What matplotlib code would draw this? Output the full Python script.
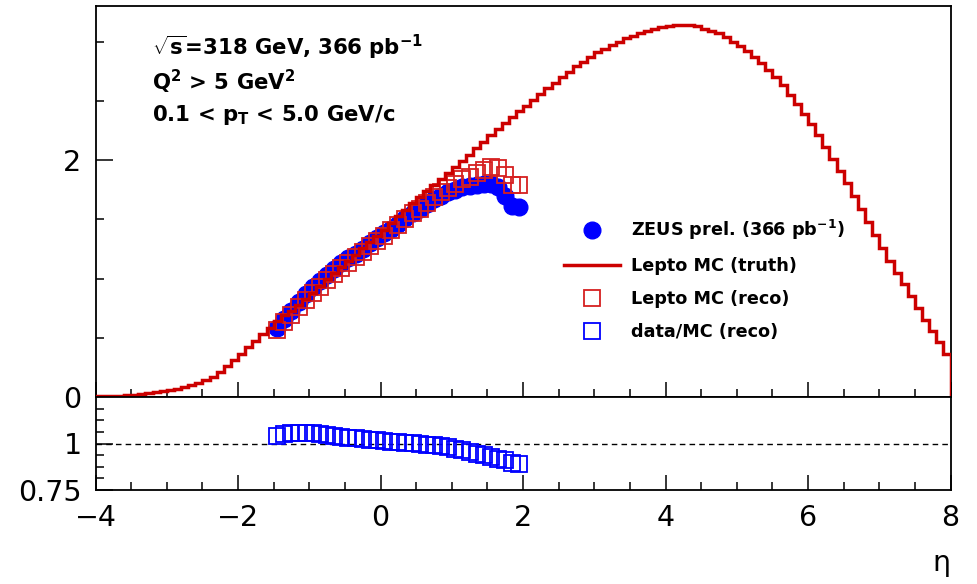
import numpy as np
import matplotlib
matplotlib.use('Agg')
import matplotlib.pyplot as plt
from matplotlib.ticker import MultipleLocator, FixedLocator
from matplotlib.lines import Line2D

plt.rcParams['font.family'] = ['DejaVu Sans']
plt.rcParams['mathtext.fontset'] = 'custom'
plt.rcParams['mathtext.rm'] = 'DejaVu Sans:bold'
plt.rcParams['mathtext.it'] = 'DejaVu Sans:bold'
plt.rcParams['mathtext.bf'] = 'DejaVu Sans:bold'
plt.rcParams['mathtext.sf'] = 'DejaVu Sans:bold'

# ---------------- data ----------------
eta_lo, eta_hi, n_bins = -4.0, 8.0, 120

truth = [
    0.005, 0.007, 0.009, 0.012, 0.016, 0.021, 0.026, 0.032, 0.039, 0.047,
    0.057, 0.069, 0.084, 0.101, 0.121, 0.145, 0.172, 0.215, 0.26, 0.31,
    0.36, 0.42, 0.47, 0.53, 0.58, 0.64, 0.69, 0.73, 0.78, 0.83,
    0.88, 0.94, 1.00, 1.05, 1.10, 1.15, 1.20, 1.26, 1.31, 1.36,
    1.41, 1.47, 1.53, 1.58, 1.64, 1.69, 1.74, 1.79, 1.84, 1.89,
    1.94, 1.99, 2.04, 2.10, 2.15, 2.21, 2.26, 2.31, 2.36, 2.41,
    2.46, 2.51, 2.56, 2.61, 2.65, 2.70, 2.74, 2.79, 2.83, 2.87,
    2.91, 2.94, 2.97, 3.00, 3.03, 3.05, 3.07, 3.09, 3.11, 3.12,
    3.13, 3.14, 3.14, 3.14, 3.13, 3.11, 3.09, 3.07, 3.04, 3.00,
    2.96, 2.92, 2.87, 2.82, 2.76, 2.70, 2.63, 2.55, 2.47, 2.39,
    2.30, 2.21, 2.11, 2.01, 1.91, 1.81, 1.70, 1.59, 1.48, 1.37,
    1.26, 1.15, 1.05, 0.95, 0.85, 0.75, 0.65, 0.56, 0.46, 0.36,
]

data_eta = [-1.45, -1.35, -1.25, -1.15, -1.05, -0.95, -0.85, -0.75, -0.65, -0.55,
            -0.45, -0.35, -0.25, -0.15, -0.05, 0.05, 0.15, 0.25, 0.35, 0.45,
            0.55, 0.65, 0.75, 0.85, 0.95, 1.05, 1.15, 1.25, 1.35, 1.45,
            1.55, 1.65, 1.75, 1.85, 1.95]

data_vals = [0.58, 0.66, 0.73, 0.80, 0.87, 0.93, 0.98, 1.03, 1.08, 1.13,
             1.17, 1.21, 1.25, 1.30, 1.34, 1.38, 1.42, 1.46, 1.51, 1.55,
             1.59, 1.63, 1.67, 1.70, 1.73, 1.75, 1.77, 1.78, 1.79, 1.80,
             1.80, 1.77, 1.70, 1.61, 1.60]

reco_vals = [0.567, 0.63, 0.69, 0.76, 0.82, 0.88, 0.93, 0.985, 1.04, 1.09,
             1.135, 1.18, 1.22, 1.275, 1.32, 1.36, 1.41, 1.45, 1.50, 1.55,
             1.59, 1.64, 1.69, 1.73, 1.765, 1.80, 1.84, 1.86, 1.89, 1.92,
             1.94, 1.93, 1.87, 1.79, 1.79]

ratio_vals = [1.041, 1.049, 1.056, 1.058, 1.058, 1.056, 1.051, 1.046, 1.041, 1.036,
              1.031, 1.027, 1.024, 1.020, 1.017, 1.014, 1.010, 1.008, 1.005, 1.002,
              0.998, 0.994, 0.990, 0.985, 0.980, 0.973, 0.964, 0.955, 0.946, 0.937,
              0.928, 0.919, 0.910, 0.897, 0.888]

edges = np.linspace(eta_lo, eta_hi, n_bins + 1)

RED = '#cc0000'
RECO_RED = '#d62020'
BLUE = '#0000ff'
SQ_MS, SQ_MEW, CIRC_MS = 11.2, 1.3, 12.0

fig = plt.figure(figsize=(9.77, 5.84), dpi=100)
L, R = 95.5 / 977, 950.5 / 977
ax = fig.add_axes([L, 1 - 397 / 584, R - L, (397 - 6) / 584])
rax = fig.add_axes([L, 1 - 490 / 584, R - L, (490 - 397) / 584])

# ---------------- top panel ----------------
ax.plot(data_eta, data_vals, 'o', color=BLUE, ms=CIRC_MS, mec=BLUE, zorder=2)
ax.plot(data_eta, reco_vals, 's', mfc='none', mec=RECO_RED, ms=SQ_MS, mew=SQ_MEW, zorder=3)
ax.stairs(truth, edges, color=RED, lw=2.5, zorder=4)

ax.set_xlim(eta_lo, eta_hi)
ax.set_ylim(0, 3.30)
ax.xaxis.set_major_locator(MultipleLocator(2))
ax.xaxis.set_minor_locator(MultipleLocator(0.5))
ax.yaxis.set_major_locator(FixedLocator([0, 2]))
ax.yaxis.set_minor_locator(MultipleLocator(0.5))
ax.tick_params(axis='both', which='both', direction='in', top=False, right=False)
ax.tick_params(axis='x', which='major', length=11, width=1.1, labelbottom=False)
ax.tick_params(axis='x', which='minor', length=5.5, width=1.1)
ax.tick_params(axis='y', which='major', length=12, width=1.1, labelsize=20.5, pad=10)
ax.tick_params(axis='y', which='minor', length=6, width=1.1)
for s in ax.spines.values():
    s.set_linewidth(1.3)

txt_kw = dict(transform=ax.transAxes, fontsize=15.3, fontweight='bold', ha='left', va='baseline')
ax.text(0.066, 1 - (55 - 6) / 391, r'$\sqrt{s}$=318 GeV, 366 pb$^{-1}$', **txt_kw)
ax.text(0.066, 1 - (90 - 6) / 391, r'Q$^{2}$ > 5 GeV$^{2}$', **txt_kw)
ax.text(0.066, 1 - (121 - 6) / 391, r'0.1 < p$_{\mathrm{T}}$ < 5.0 GeV/c', **txt_kw)

handles = [
    Line2D([], [], ls='none', marker='o', color=BLUE, ms=CIRC_MS),
    Line2D([], [], color=RED, lw=2.5),
    Line2D([], [], ls='none', marker='s', mfc='none', mec=RECO_RED, ms=SQ_MS, mew=SQ_MEW),
    Line2D([], [], ls='none', marker='s', mfc='none', mec=BLUE, ms=SQ_MS, mew=SQ_MEW),
]
labels = [r'ZEUS prel. (366 pb$^{-1}$)', 'Lepto MC (truth)', 'Lepto MC (reco)', 'data/MC (reco)']
leg = ax.legend(handles, labels, loc='upper left', bbox_to_anchor=(564 / 977, 1 - 218 / 584),
                bbox_transform=fig.transFigure, frameon=False, borderpad=0, borderaxespad=0,
                handlelength=3.2, handletextpad=0.6, labelspacing=0.85,
                prop={'weight': 'bold', 'size': 12.7})

# ---------------- ratio panel ----------------
rax.axhline(1.0, color='black', lw=1.0, ls=(0, (4, 3)), zorder=1)
rax.plot(data_eta, ratio_vals, 's', mfc='none', mec=BLUE, ms=SQ_MS, mew=SQ_MEW, zorder=3)
rax.set_xlim(eta_lo, eta_hi)
rax.set_ylim(0.75, 1.25)
rax.xaxis.set_major_locator(MultipleLocator(2))
rax.xaxis.set_minor_locator(MultipleLocator(0.5))
rax.yaxis.set_major_locator(FixedLocator([0.75, 1.0]))
rax.set_yticklabels(['0.75', '1'])
rax.yaxis.set_minor_locator(FixedLocator([0.8125, 0.875, 0.9375, 1.0625, 1.125, 1.1875]))
rax.tick_params(axis='both', which='both', direction='in', top=False, right=False)
rax.tick_params(axis='x', which='major', length=11, width=1.1, labelsize=20.5, pad=10)
rax.tick_params(axis='x', which='minor', length=5.5, width=1.1)
rax.tick_params(axis='y', which='major', length=12, width=1.1, labelsize=20.5, pad=10)
rax.tick_params(axis='y', which='minor', length=6, width=1.1)
for s in rax.spines.values():
    s.set_linewidth(1.3)
rax.set_xlabel('η', fontsize=20.5, loc='right', labelpad=12)

fig.savefig('out.png', dpi=100)
